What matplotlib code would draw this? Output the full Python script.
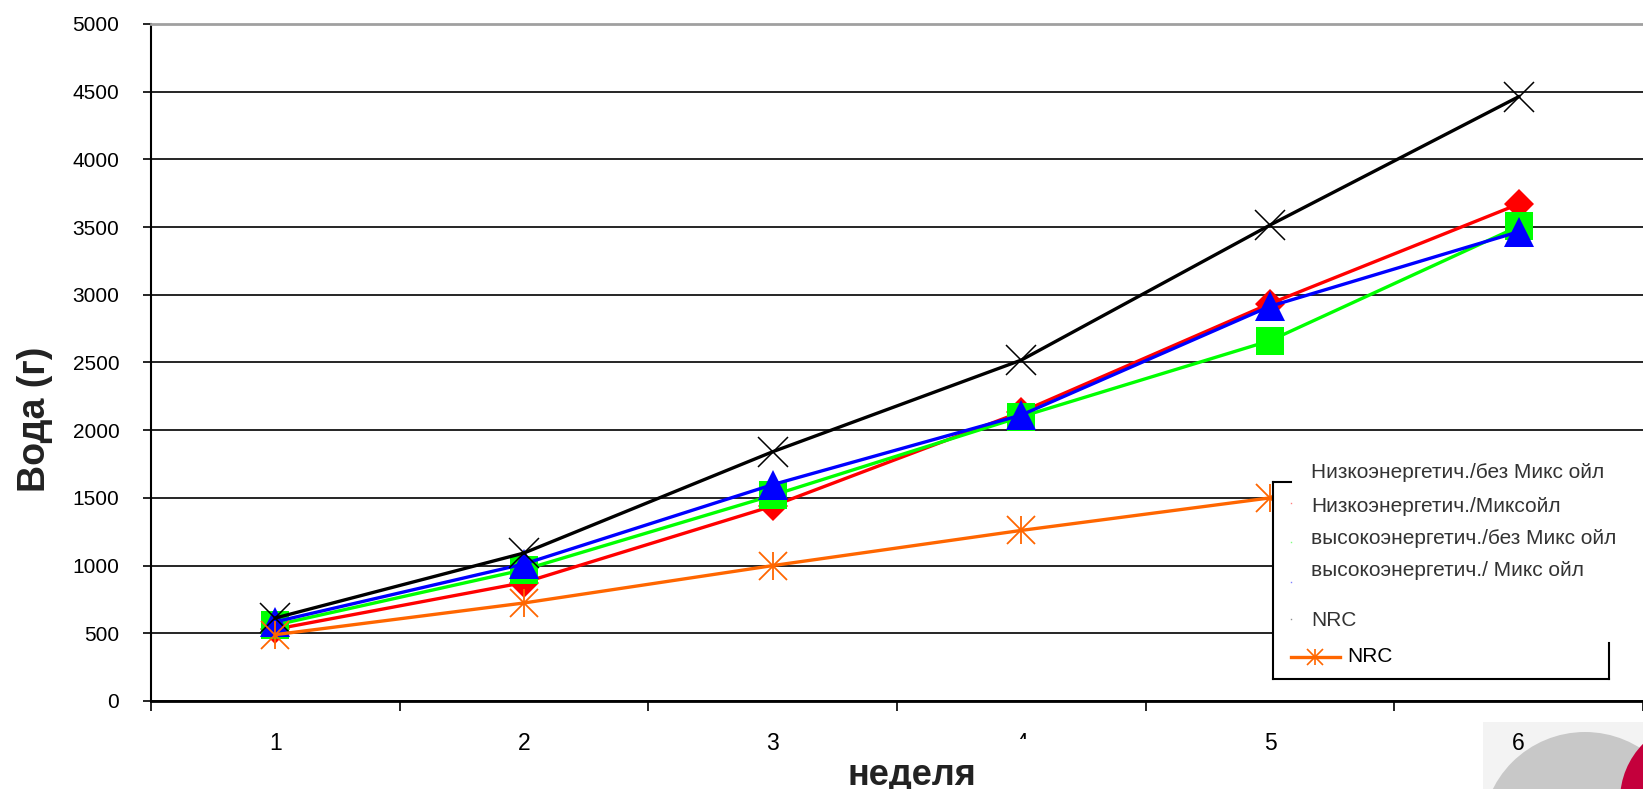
import numpy as np
import matplotlib
matplotlib.use("Agg")
import matplotlib.pyplot as plt
from matplotlib.patches import Rectangle, Circle
from matplotlib.lines import Line2D

plt.rcParams['font.family'] = ['Liberation Sans', 'DejaVu Sans']

# data (water, g, per week)
weeks = [1, 2, 3, 4, 5, 6]
red_vals = [530, 875, 1440, 2135, 2935, 3670]
green_vals = [561, 970, 1519, 2100, 2661, 3505]
blue_vals = [585, 1012, 1598, 2112, 2915, 3466]
black_vals = [613, 1093, 1841, 2518, 3515, 4463]
orange_vals = [490, 724, 1000, 1260, 1500, np.nan]

legend_labels = ["Низкоэнергетич./без Микс ойл", "Низкоэнергетич./Миксойл",
                 "высокоэнергетич./без Микс ойл", "высокоэнергетич./ Микс ойл",
                 "NRC", "NRC"]
yticks = list(range(0, 5001, 500))

W, H = 1643, 789
fig = plt.figure(figsize=(W / 100, H / 100), dpi=100)
ax = fig.add_axes([151 / W, (H - 701) / H, (W - 151) / W, 677 / H])
ax.patch.set_alpha(0)


def fx(x):
    return x / W


def fy(y):
    return 1 - y / H


ax.plot(weeks, red_vals, color='#ff0000', lw=2.4, marker='D', ms=15.5, mew=0, zorder=3)
ax.plot(weeks, green_vals, color='#00ff00', lw=2.4, marker='s', ms=20.5, mew=0, zorder=3)
ax.plot(weeks, blue_vals, color='#0000ff', lw=2.4, marker='^', ms=22, mew=0, zorder=3)
ax.plot(weeks, black_vals, color='black', lw=2.4, marker='x', ms=21, mew=1.1, zorder=3)
ax.plot(weeks, orange_vals, color='#ff6600', lw=2.4, marker='x', ms=20, mew=1.3, zorder=3)
ax.plot(weeks, orange_vals, color='#ff6600', ls='none', marker='|', ms=20, mew=1.3, zorder=3)

ax.set_xlim(0.5, 0.5 + 1492 / 250)
ax.set_ylim(0, 5000)
ax.set_yticks(yticks)
ax.yaxis.grid(True, color='black', lw=1.2)
ax.set_axisbelow(True)
ax.get_ygridlines()[-1].set_visible(False)

ax.set_xticks(np.arange(0.5, 7, 1))
ax.set_xticklabels([])
ax.set_xticks(weeks, minor=True)
ax.set_xticklabels([str(w) for w in weeks], minor=True)
ax.tick_params(axis='x', which='major', length=7.2, width=1.2)
ax.tick_params(axis='x', which='minor', length=0, pad=22.5, labelsize=16.5)
ax.tick_params(axis='y', length=5.8, width=1.2, pad=17, labelsize=15)

ax.spines['right'].set_visible(False)
ax.spines['top'].set_color('#a0a0a0')
ax.spines['top'].set_linewidth(2)
ax.spines['bottom'].set_linewidth(2)
ax.spines['left'].set_linewidth(1.5)

ax.set_xlabel('неделя', fontsize=26, fontweight='bold', color='#222222', va='baseline')
ax.xaxis.set_label_coords((912 - 151) / 1492, (701 - 785) / 677)
ax.set_ylabel('Вода (г)', fontsize=27, fontweight='bold', color='#222222')
ax.yaxis.set_label_coords((53 - 151) / 1492, (701 - 419) / 677)

# legend, drawn by hand (broken frame like the original)
fig.add_artist(Rectangle((fx(1273), fy(679)), fx(W - 1273), (679 - 450) / H,
                         transform=fig.transFigure, fc='white', ec='none', zorder=2))
for (x0, y0, x1, y1) in [(1273, 482, 1273, 679), (1273, 679, 1609, 679),
                         (1609, 643, 1609, 679), (1273, 482, 1291, 482)]:
    fig.add_artist(Line2D([fx(x0), fx(x1)], [fy(y0), fy(y1)], color='black', lw=1.5,
                          transform=fig.transFigure, zorder=3))
text_y = [473, 506, 538, 571, 620]
for lab, ty in zip(legend_labels[:5], text_y):
    fig.text(fx(1311), fy(ty), lab, fontsize=15, color='#333333', va='center', zorder=4)
for col, dy in zip(['#ff8080', '#80ff80', '#8080ff', '#909090'], [503, 542, 582, 619]):
    fig.add_artist(Line2D([fx(1291)], [fy(dy)], color=col, marker='s', ms=1, mew=0,
                          transform=fig.transFigure, zorder=4))
fig.add_artist(Line2D([fx(1291), fx(1340)], [fy(657), fy(657)], color='#ff6600', lw=2.4,
                      transform=fig.transFigure, zorder=4))
for m in ['x', '|']:
    fig.add_artist(Line2D([fx(1315)], [fy(657)], color='#ff6600', marker=m, ms=11, mew=1.2,
                          transform=fig.transFigure, zorder=4))
fig.text(fx(1347), fy(657), legend_labels[5], fontsize=15, color='black', va='center', zorder=4)

# the "4" label is mostly covered in the original
fig.add_artist(Rectangle((fx(1008), fy(765)), fx(44), 26 / H,
                         transform=fig.transFigure, fc='white', ec='none', zorder=2))

# logo fragment in the bottom-right corner, behind the axes texts
fig.add_artist(Rectangle((fx(1483), 0), fx(W - 1483), (789 - 722) / H,
                         transform=fig.transFigure, fc='#f3f3f3', ec='none', zorder=-3))
fig.add_artist(Circle((1585 / 100, (H - 835) / 100), 1.03, transform=fig.dpi_scale_trans,
                      fc='#c8c8c8', ec='none', zorder=-2))
fig.add_artist(Circle((1700 / 100, (H - 800) / 100), 0.80, transform=fig.dpi_scale_trans,
                      fc='#c4003c', ec='none', zorder=-1))

fig.savefig('out.png', dpi=100)
